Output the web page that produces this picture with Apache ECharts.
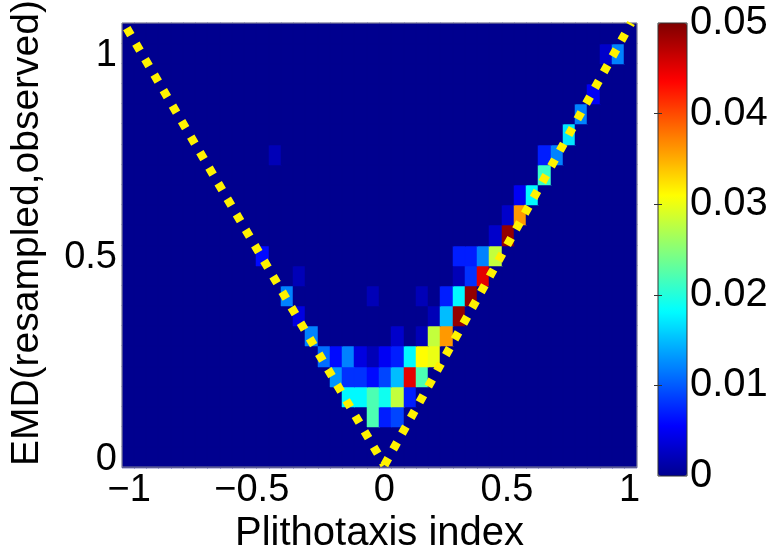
<!DOCTYPE html>
<html><head><meta charset="utf-8">
<script src="https://cdn.jsdelivr.net/npm/echarts@6/dist/echarts.min.js"></script>
<style>html,body{margin:0;padding:0;background:#fff}#c{width:773px;height:559px}</style>
</head><body><div id="c"></div>
<script>
// ---- data ----
const xTicks = [-1, -0.5, 0, 0.5, 1];
const yTicks = [0, 0.5, 1];
const cbTicks = [0, 0.01, 0.02, 0.03, 0.04, 0.05];
const binSize = 0.05;
const xFirstEdge = -1.07;   // left edge of first column
const yFirstEdge = -0.02;   // bottom edge of first row
const nCols = 42;
const nRows = 22;
// non-empty cells: [column index, row index, value]
const cells = [
  [39,20,0.003],[40,20,0.012],
  [38,18,0.005],
  [37,17,0.012],
  [36,16,0.017],
  [12,15,0.002],[34,15,0.007],[35,15,0.012],
  [34,14,0.021],
  [32,13,0.005],[33,13,0.018],
  [31,12,0.003],[32,12,0.036],
  [30,11,0.003],[31,11,0.049],
  [11,10,0.006],[27,10,0.007],[28,10,0.007],[29,10,0.012],[30,10,0.028],
  [14,9,0.002],[27,9,0.002],[28,9,0.008],[29,9,0.045],
  [13,8,0.012],[20,8,0.002],[24,8,0.002],[26,8,0.007],[27,8,0.018],[28,8,0.049],
  [14,7,0.004],[25,7,0.002],[26,7,0.015],[27,7,0.049],
  [15,6,0.012],[22,6,0.003],[24,6,0.002],[25,6,0.028],[26,6,0.036],
  [16,5,0.011],[17,5,0.006],[18,5,0.012],[19,5,0.004],[20,5,0.002],[21,5,0.005],[22,5,0.007],[23,5,0.018],[24,5,0.031],[25,5,0.030],
  [17,4,0.013],[18,4,0.008],[19,4,0.008],[20,4,0.006],[21,4,0.009],[22,4,0.015],[23,4,0.045],[24,4,0.022],
  [18,3,0.018],[19,3,0.018],[20,3,0.022],[21,3,0.019],[22,3,0.028],[23,3,0.007],
  [20,2,0.022],[21,2,0.007],[22,2,0.009]
];
const boundLeft = [[-1.063, 1.08], [0, -0.015]];
const boundRight = [[0, -0.015], [1.006, 1.08]];

// ---- jet colormap (64 levels) ----
function clamp(v){return Math.max(0, Math.min(1, v));}
const jetColors = [];
for (let i = 0; i < 64; i++) {
  const x = (i + 1) / 64;
  const r = clamp(Math.min(4*x - 1.5, -4*x + 4.5));
  const g = clamp(Math.min(4*x - 0.5, -4*x + 3.5));
  const b = clamp(Math.min(4*x + 0.5, -4*x + 2.5));
  jetColors.push('rgb(' + Math.round(r*255) + ',' + Math.round(g*255) + ',' + Math.round(b*255) + ')');
}

// ---- build full grid of cells ----
const lookup = {};
cells.forEach(c => { lookup[c[0] + '_' + c[1]] = c[2]; });
const gridData = [];
for (let r = 0; r < nRows; r++) {
  for (let c = 0; c < nCols; c++) {
    const v = lookup[c + '_' + r] || 0;
    gridData.push([xFirstEdge + (c + 0.5) * binSize, yFirstEdge + (r + 0.5) * binSize, v]);
  }
}

const FONT = 'Liberation Sans';
const FS = 38;
const chart = echarts.init(document.getElementById('c'), null, {renderer: 'canvas'});
const minus = '\u2212';
chart.setOption({
  animation: false,
  backgroundColor: '#fff',
  textStyle: {fontFamily: FONT},
  grid: [
    {left: 121, top: 23, width: 516, height: 453, show: true, borderColor: '#9a9a9a', borderWidth: 1, backgroundColor: 'transparent', z: 5},
    {left: 658, top: 23, width: 29, height: 453, show: true, borderColor: '#333', borderWidth: 1, backgroundColor: 'transparent', z: 10}
  ],
  xAxis: [
    {type: 'value', gridIndex: 0, min: xFirstEdge, max: xFirstEdge + nCols * binSize,
     name: 'Plithotaxis index', nameLocation: 'middle', nameGap: 41,
     nameTextStyle: {fontFamily: FONT, fontSize: 40, color: '#000'},
     axisLine: {show: false}, axisTick: {show: false}, splitLine: {show: false},
     axisLabel: {customValues: xTicks, margin: 4, color: '#000', fontFamily: FONT, fontSize: FS,
       formatter: v => v < 0 ? '{t|' + minus + String(-v) + '}{p|}' : '{t|' + String(v) + '}',
       rich: {t: {fontFamily: FONT, fontSize: FS, color: '#000'}, p: {width: 20, fontSize: FS}}}},
    {type: 'value', gridIndex: 1, min: 0, max: 1, show: false}
  ],
  yAxis: [
    {type: 'value', gridIndex: 0, min: yFirstEdge, max: yFirstEdge + nRows * binSize,
     name: 'EMD(resampled,observed)', nameLocation: 'middle', nameGap: 75,
     nameTextStyle: {fontFamily: FONT, fontSize: 39, color: '#000', padding: [0, 0, 0, 24]},
     axisLine: {show: false}, axisTick: {show: false}, splitLine: {show: false},
     axisLabel: {customValues: yTicks, margin: 5, color: '#000', fontFamily: FONT, fontSize: FS,
       formatter: v => String(v)}},
    {type: 'value', gridIndex: 1, min: 0, max: 0.05, position: 'right', z: 10,
     axisLine: {show: false}, splitLine: {show: false},
     axisTick: {show: true, inside: true, length: 4, customValues: [0.01, 0.02, 0.03, 0.04], lineStyle: {color: '#333'}},
     axisLabel: {customValues: cbTicks, margin: 3, color: '#000', fontFamily: FONT, fontSize: 40,
       formatter: v => v === 0 ? '0' : v.toFixed(2)}},
    {type: 'value', gridIndex: 1, min: 0, max: 0.05, position: 'left', z: 10,
     axisLine: {show: false}, splitLine: {show: false},
     axisTick: {show: true, inside: true, length: 4, customValues: [0.01, 0.02, 0.03, 0.04], lineStyle: {color: '#333'}},
     axisLabel: {show: false}}
  ],
  visualMap: {
    type: 'continuous', min: 0, max: 0.05, dimension: 2, seriesIndex: 0,
    calculable: false, orient: 'vertical', left: 658, top: 23, padding: 0,
    itemWidth: 29, itemHeight: 453, text: null, hoverLink: false,
    inRange: {color: jetColors}
  },
  series: [
    {type: 'custom', xAxisIndex: 0, yAxisIndex: 0, data: gridData, z: 2, silent: true,
     renderItem: function (params, api) {
       const x = api.value(0), y = api.value(1);
       const p0 = api.coord([x - binSize / 2, y + binSize / 2]);
       const p1 = api.coord([x + binSize / 2, y - binSize / 2]);
       const x0 = Math.floor(p0[0]), y0 = Math.floor(p0[1]);
       const x1 = Math.ceil(p1[0]), y1 = Math.ceil(p1[1]);
       const col = api.visual('color');
       return {type: 'rect',
         shape: {x: x0, y: y0, width: x1 - x0, height: y1 - y0},
         style: {fill: col, stroke: col, lineWidth: 0.5}};
     }},
    {type: 'line', xAxisIndex: 0, yAxisIndex: 0, data: boundLeft, symbol: 'none', z: 6, silent: true,
     lineStyle: {color: '#fff200', width: 8.5, type: [8, 10], dashOffset: 12, cap: 'butt'}},
    {type: 'line', xAxisIndex: 0, yAxisIndex: 0, data: boundRight, symbol: 'none', z: 6, silent: true,
     lineStyle: {color: '#fff200', width: 8.5, type: [8, 10], cap: 'butt'}}
  ]
});
</script></body></html>
